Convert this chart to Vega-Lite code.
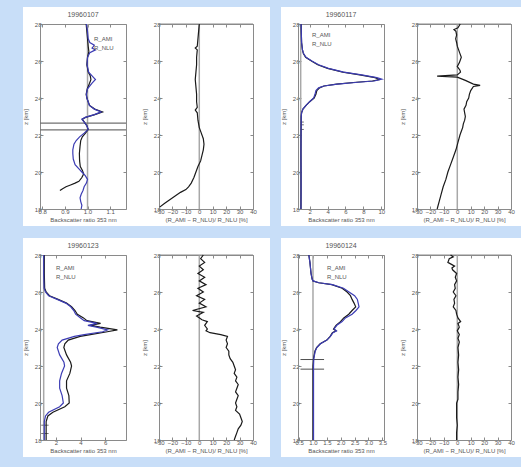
{
"$schema": "https://vega.github.io/schema/vega-lite/v6.json",
"background": "#c8def8",
"padding": {"left": 5, "top": -6, "right": 5, "bottom": 10},
"config": {
 "view": {"stroke": "white", "strokeWidth": 34, "fill": "white"},
 "font": "Liberation Sans",
 "axis": {"grid": false, "domainColor": "#8a8a8a", "domainWidth": 1, "tickColor": "#8a8a8a", "tickSize": -3, "labelFontSize": 6, "labelColor": "#555555", "titleFontSize": 6, "titleFontWeight": "normal", "titleColor": "#555555", "labelPadding": 2, "titlePadding": 2, "labelOverlap": false, "labelFlush": false},
 "axisY": {"titlePadding": 6},
 "title": {"fontSize": 7, "fontWeight": "normal", "color": "#555555", "offset": 3},
 "legend": {"labelFontSize": 6, "labelColor": "#555555", "symbolOpacity": 0, "symbolSize": 0, "labelOffset": 0, "rowPadding": 3, "padding": 0, "offset": 10}
},
"datasets": {
 "tl_r": [
  {"z":28,"s":"R_AMI","v":0.994},{"z":27.6,"s":"R_AMI","v":0.997},{"z":27.2,"s":"R_AMI","v":1.0},{"z":26.8,"s":"R_AMI","v":1.003},{"z":26.5,"s":"R_AMI","v":1.006},{"z":26.2,"s":"R_AMI","v":1.0},{"z":25.8,"s":"R_AMI","v":0.997},{"z":25.4,"s":"R_AMI","v":1.003},{"z":25.2,"s":"R_AMI","v":1.012},{"z":25.0,"s":"R_AMI","v":1.015},{"z":24.8,"s":"R_AMI","v":1.009},{"z":24.5,"s":"R_AMI","v":0.999},{"z":24.2,"s":"R_AMI","v":0.994},{"z":24.0,"s":"R_AMI","v":0.997},{"z":23.8,"s":"R_AMI","v":1.003},{"z":23.6,"s":"R_AMI","v":1.009},{"z":23.4,"s":"R_AMI","v":1.032},{"z":23.25,"s":"R_AMI","v":1.066},{"z":23.1,"s":"R_AMI","v":1.032},{"z":22.95,"s":"R_AMI","v":0.991},{"z":22.85,"s":"R_AMI","v":0.977},{"z":22.7,"s":"R_AMI","v":0.986},{"z":22.5,"s":"R_AMI","v":0.997},{"z":22.3,"s":"R_AMI","v":1.003},{"z":22.1,"s":"R_AMI","v":0.991},{"z":21.9,"s":"R_AMI","v":0.977},{"z":21.7,"s":"R_AMI","v":0.97},{"z":21.4,"s":"R_AMI","v":0.967},{"z":21.0,"s":"R_AMI","v":0.964},{"z":20.6,"s":"R_AMI","v":0.965},{"z":20.3,"s":"R_AMI","v":0.968},{"z":20.1,"s":"R_AMI","v":0.977},{"z":19.9,"s":"R_AMI","v":0.983},{"z":19.7,"s":"R_AMI","v":0.975},{"z":19.5,"s":"R_AMI","v":0.962},{"z":19.4,"s":"R_AMI","v":0.945},{"z":19.3,"s":"R_AMI","v":0.925},{"z":19.2,"s":"R_AMI","v":0.905},{"z":19.1,"s":"R_AMI","v":0.89},{"z":19.0,"s":"R_AMI","v":0.878},
  {"z":28,"s":"R_NLU","v":0.995},{"z":27.6,"s":"R_NLU","v":1.0},{"z":27.2,"s":"R_NLU","v":1.003},{"z":27.0,"s":"R_NLU","v":1.01},{"z":26.85,"s":"R_NLU","v":1.03},{"z":26.7,"s":"R_NLU","v":1.02},{"z":26.6,"s":"R_NLU","v":1.035},{"z":26.45,"s":"R_NLU","v":1.01},{"z":26.2,"s":"R_NLU","v":1.0},{"z":25.8,"s":"R_NLU","v":0.998},{"z":25.4,"s":"R_NLU","v":1.005},{"z":25.2,"s":"R_NLU","v":1.02},{"z":25.0,"s":"R_NLU","v":1.035},{"z":24.8,"s":"R_NLU","v":1.02},{"z":24.5,"s":"R_NLU","v":1.0},{"z":24.2,"s":"R_NLU","v":0.995},{"z":24.0,"s":"R_NLU","v":0.997},{"z":23.8,"s":"R_NLU","v":1.003},{"z":23.6,"s":"R_NLU","v":1.008},{"z":23.4,"s":"R_NLU","v":1.03},{"z":23.25,"s":"R_NLU","v":1.06},{"z":23.1,"s":"R_NLU","v":1.03},{"z":22.95,"s":"R_NLU","v":0.99},{"z":22.85,"s":"R_NLU","v":0.975},{"z":22.7,"s":"R_NLU","v":0.985},{"z":22.5,"s":"R_NLU","v":0.997},{"z":22.3,"s":"R_NLU","v":1.003},{"z":22.1,"s":"R_NLU","v":0.985},{"z":21.9,"s":"R_NLU","v":0.965},{"z":21.7,"s":"R_NLU","v":0.95},{"z":21.5,"s":"R_NLU","v":0.94},{"z":21.2,"s":"R_NLU","v":0.935},{"z":21.0,"s":"R_NLU","v":0.935},{"z":20.7,"s":"R_NLU","v":0.937},{"z":20.4,"s":"R_NLU","v":0.945},{"z":20.2,"s":"R_NLU","v":0.96},{"z":20.0,"s":"R_NLU","v":0.975},{"z":19.8,"s":"R_NLU","v":0.99},{"z":19.6,"s":"R_NLU","v":1.0},{"z":19.4,"s":"R_NLU","v":0.995},{"z":19.2,"s":"R_NLU","v":0.985},{"z":19.0,"s":"R_NLU","v":0.98},{"z":18.8,"s":"R_NLU","v":0.972},{"z":18.6,"s":"R_NLU","v":0.967},{"z":18.4,"s":"R_NLU","v":0.97},{"z":18.2,"s":"R_NLU","v":0.975},{"z":18.0,"s":"R_NLU","v":0.972}
 ],
 "tl_e": [{"z":22.64,"x":0.79,"b":1},{"z":22.64,"x":1.17,"b":1},{"z":22.28,"x":0.79,"b":2},{"z":22.28,"x":1.17,"b":2}],
 "tl_d": [
  {"z":28,"d":0},{"z":27.6,"d":-0.5},{"z":27.2,"d":-1},{"z":26.8,"d":-1.5},{"z":26.7,"d":-3},{"z":26.6,"d":-1.5},{"z":26.2,"d":-2},{"z":25.8,"d":-2},{"z":25.4,"d":-2.5},{"z":25.0,"d":-3},{"z":24.6,"d":-2.5},{"z":24.2,"d":-2},{"z":23.8,"d":-2},{"z":23.5,"d":-1.5},{"z":23.35,"d":-3},{"z":23.2,"d":-1.5},{"z":22.8,"d":-1},{"z":22.4,"d":0},{"z":22.1,"d":1.5},{"z":21.8,"d":3},{"z":21.5,"d":3.5},{"z":21.2,"d":3},{"z":20.9,"d":2},{"z":20.6,"d":1},{"z":20.3,"d":-1},{"z":20.0,"d":-2.5},{"z":19.7,"d":-4},{"z":19.4,"d":-6},{"z":19.2,"d":-8},{"z":19.05,"d":-10},{"z":18.9,"d":-14},{"z":18.7,"d":-18},{"z":18.5,"d":-22},{"z":18.3,"d":-26},{"z":18.1,"d":-29.5}
 ],
 "tr_r": [
  {"z":28,"s":"R_AMI","v":1.05},{"z":27.5,"s":"R_AMI","v":1.07},{"z":27,"s":"R_AMI","v":1.1},{"z":26.6,"s":"R_AMI","v":1.2},{"z":26.4,"s":"R_AMI","v":1.3},{"z":26.2,"s":"R_AMI","v":1.55},{"z":26.0,"s":"R_AMI","v":2.2},{"z":25.8,"s":"R_AMI","v":2.9},{"z":25.6,"s":"R_AMI","v":4.0},{"z":25.4,"s":"R_AMI","v":5.7},{"z":25.25,"s":"R_AMI","v":7.6},{"z":25.1,"s":"R_AMI","v":9.3},{"z":25.0,"s":"R_AMI","v":9.8},{"z":24.92,"s":"R_AMI","v":9.0},{"z":24.85,"s":"R_AMI","v":7.2},{"z":24.75,"s":"R_AMI","v":5.0},{"z":24.65,"s":"R_AMI","v":3.6},{"z":24.55,"s":"R_AMI","v":3.1},{"z":24.4,"s":"R_AMI","v":2.8},{"z":24.2,"s":"R_AMI","v":2.7},{"z":24.0,"s":"R_AMI","v":2.5},{"z":23.8,"s":"R_AMI","v":2.0},{"z":23.6,"s":"R_AMI","v":1.6},{"z":23.4,"s":"R_AMI","v":1.25},{"z":23.2,"s":"R_AMI","v":1.1},{"z":23.0,"s":"R_AMI","v":1.06},{"z":22.0,"s":"R_AMI","v":1.04},{"z":21.0,"s":"R_AMI","v":1.03},{"z":20.0,"s":"R_AMI","v":1.04},{"z":19.0,"s":"R_AMI","v":1.04},{"z":18.0,"s":"R_AMI","v":1.03},
  {"z":28,"s":"R_NLU","v":1.05},{"z":27.5,"s":"R_NLU","v":1.07},{"z":27,"s":"R_NLU","v":1.1},{"z":26.6,"s":"R_NLU","v":1.2},{"z":26.4,"s":"R_NLU","v":1.32},{"z":26.2,"s":"R_NLU","v":1.6},{"z":26.0,"s":"R_NLU","v":2.25},{"z":25.8,"s":"R_NLU","v":3.0},{"z":25.6,"s":"R_NLU","v":4.1},{"z":25.4,"s":"R_NLU","v":5.8},{"z":25.25,"s":"R_NLU","v":7.8},{"z":25.1,"s":"R_NLU","v":9.5},{"z":25.02,"s":"R_NLU","v":10.05},{"z":24.92,"s":"R_NLU","v":9.2},{"z":24.85,"s":"R_NLU","v":7.4},{"z":24.75,"s":"R_NLU","v":5.1},{"z":24.65,"s":"R_NLU","v":3.6},{"z":24.55,"s":"R_NLU","v":3.0},{"z":24.4,"s":"R_NLU","v":2.7},{"z":24.2,"s":"R_NLU","v":2.6},{"z":24.0,"s":"R_NLU","v":2.45},{"z":23.8,"s":"R_NLU","v":2.0},{"z":23.6,"s":"R_NLU","v":1.6},{"z":23.4,"s":"R_NLU","v":1.25},{"z":23.2,"s":"R_NLU","v":1.1},{"z":23.0,"s":"R_NLU","v":1.06},{"z":22.0,"s":"R_NLU","v":1.04},{"z":21.0,"s":"R_NLU","v":1.03},{"z":20.0,"s":"R_NLU","v":1.04},{"z":19.0,"s":"R_NLU","v":1.04},{"z":18.0,"s":"R_NLU","v":1.03}
 ],
 "tr_e": [{"z":22.7,"x":1.0,"b":1},{"z":22.7,"x":1.35,"b":1},{"z":22.55,"x":1.0,"b":2},{"z":22.55,"x":1.35,"b":2},{"z":22.3,"x":1.0,"b":3},{"z":22.3,"x":1.35,"b":3}],
 "tr_d": [
  {"z":28,"d":2.2},{"z":27.8,"d":0.5},{"z":27.7,"d":-2.5},{"z":27.6,"d":-1},{"z":27.4,"d":-0.5},{"z":27.2,"d":-1.2},{"z":27.0,"d":-0.5},{"z":26.8,"d":0},{"z":26.6,"d":1},{"z":26.4,"d":2},{"z":26.2,"d":3},{"z":26.0,"d":2},{"z":25.9,"d":1.5},{"z":25.7,"d":0},{"z":25.6,"d":1},{"z":25.5,"d":2},{"z":25.4,"d":2.4},{"z":25.25,"d":0},{"z":25.18,"d":-15},{"z":25.13,"d":0},{"z":24.95,"d":6},{"z":24.75,"d":12},{"z":24.68,"d":17},{"z":24.62,"d":12},{"z":24.4,"d":10},{"z":24.2,"d":9},{"z":24.0,"d":8.5},{"z":23.8,"d":7},{"z":23.6,"d":6.5},{"z":23.4,"d":5},{"z":23.2,"d":5.5},{"z":23.0,"d":6},{"z":22.8,"d":5.5},{"z":22.6,"d":4.5},{"z":22.4,"d":4},{"z":22.2,"d":3},{"z":22.0,"d":2},{"z":21.6,"d":0.5},{"z":21.2,"d":-1},{"z":20.8,"d":-3},{"z":20.4,"d":-5},{"z":20.0,"d":-7},{"z":19.6,"d":-8.5},{"z":19.2,"d":-10.5},{"z":18.8,"d":-12},{"z":18.4,"d":-13.5},{"z":18.0,"d":-15}
 ],
 "bl_r": [
  {"z":28,"s":"R_AMI","v":1.05},{"z":27,"s":"R_AMI","v":1.05},{"z":26.2,"s":"R_AMI","v":1.08},{"z":26.0,"s":"R_AMI","v":1.2},{"z":25.8,"s":"R_AMI","v":1.47},{"z":25.6,"s":"R_AMI","v":2.17},{"z":25.4,"s":"R_AMI","v":2.86},{"z":25.2,"s":"R_AMI","v":3.27},{"z":25.0,"s":"R_AMI","v":3.55},{"z":24.8,"s":"R_AMI","v":3.74},{"z":24.6,"s":"R_AMI","v":4.24},{"z":24.45,"s":"R_AMI","v":4.52},{"z":24.3,"s":"R_AMI","v":5.63},{"z":24.2,"s":"R_AMI","v":4.8},{"z":24.1,"s":"R_AMI","v":5.6},{"z":23.95,"s":"R_AMI","v":7.0},{"z":23.85,"s":"R_AMI","v":6.18},{"z":23.7,"s":"R_AMI","v":4.8},{"z":23.6,"s":"R_AMI","v":3.97},{"z":23.4,"s":"R_AMI","v":3.0},{"z":23.2,"s":"R_AMI","v":2.72},{"z":23.0,"s":"R_AMI","v":2.64},{"z":22.6,"s":"R_AMI","v":2.86},{"z":22.2,"s":"R_AMI","v":3.19},{"z":22.0,"s":"R_AMI","v":3.27},{"z":21.6,"s":"R_AMI","v":3.13},{"z":21.2,"s":"R_AMI","v":2.86},{"z":20.8,"s":"R_AMI","v":2.86},{"z":20.4,"s":"R_AMI","v":3.05},{"z":20.0,"s":"R_AMI","v":3.08},{"z":19.8,"s":"R_AMI","v":2.72},{"z":19.5,"s":"R_AMI","v":1.75},{"z":19.3,"s":"R_AMI","v":1.34},{"z":19.0,"s":"R_AMI","v":1.2},{"z":18.5,"s":"R_AMI","v":1.2},{"z":18.0,"s":"R_AMI","v":1.2},
  {"z":28,"s":"R_NLU","v":1.0},{"z":27,"s":"R_NLU","v":1.0},{"z":26.2,"s":"R_NLU","v":1.03},{"z":26.0,"s":"R_NLU","v":1.15},{"z":25.8,"s":"R_NLU","v":1.4},{"z":25.6,"s":"R_NLU","v":2.1},{"z":25.4,"s":"R_NLU","v":2.8},{"z":25.2,"s":"R_NLU","v":3.2},{"z":25.0,"s":"R_NLU","v":3.45},{"z":24.8,"s":"R_NLU","v":3.6},{"z":24.6,"s":"R_NLU","v":4.0},{"z":24.45,"s":"R_NLU","v":4.3},{"z":24.3,"s":"R_NLU","v":5.35},{"z":24.2,"s":"R_NLU","v":4.6},{"z":24.1,"s":"R_NLU","v":5.3},{"z":23.95,"s":"R_NLU","v":6.2},{"z":23.85,"s":"R_NLU","v":5.8},{"z":23.7,"s":"R_NLU","v":4.3},{"z":23.6,"s":"R_NLU","v":3.5},{"z":23.4,"s":"R_NLU","v":2.5},{"z":23.2,"s":"R_NLU","v":2.2},{"z":23.0,"s":"R_NLU","v":2.1},{"z":22.6,"s":"R_NLU","v":2.3},{"z":22.2,"s":"R_NLU","v":2.65},{"z":22.0,"s":"R_NLU","v":2.7},{"z":21.6,"s":"R_NLU","v":2.45},{"z":21.2,"s":"R_NLU","v":2.3},{"z":20.8,"s":"R_NLU","v":2.3},{"z":20.4,"s":"R_NLU","v":2.5},{"z":20.0,"s":"R_NLU","v":2.6},{"z":19.8,"s":"R_NLU","v":2.3},{"z":19.5,"s":"R_NLU","v":1.4},{"z":19.3,"s":"R_NLU","v":1.15},{"z":19.0,"s":"R_NLU","v":1.05},{"z":18.0,"s":"R_NLU","v":1.05}
 ],
 "bl_e": [{"z":18.8,"x":0.8,"b":1},{"z":18.8,"x":1.4,"b":1},{"z":18.35,"x":0.8,"b":2},{"z":18.35,"x":1.4,"b":2}],
 "bl_d": [
  {"z":28,"d":3},{"z":27.8,"d":1},{"z":27.6,"d":4},{"z":27.4,"d":0},{"z":27.2,"d":3},{"z":27.0,"d":-1},{"z":26.8,"d":4},{"z":26.6,"d":0},{"z":26.4,"d":5},{"z":26.2,"d":-1},{"z":26.0,"d":3},{"z":25.8,"d":-2},{"z":25.6,"d":4},{"z":25.4,"d":0},{"z":25.2,"d":5},{"z":25.0,"d":-5},{"z":24.9,"d":3},{"z":24.7,"d":-2},{"z":24.5,"d":2},{"z":24.4,"d":6},{"z":24.2,"d":4},{"z":24.0,"d":6},{"z":23.9,"d":5},{"z":23.8,"d":8},{"z":23.7,"d":16},{"z":23.6,"d":21},{"z":23.4,"d":20},{"z":23.2,"d":21},{"z":23.0,"d":20},{"z":22.8,"d":22},{"z":22.6,"d":22},{"z":22.4,"d":23},{"z":22.2,"d":25},{"z":22.0,"d":26},{"z":21.8,"d":27},{"z":21.6,"d":26},{"z":21.4,"d":28},{"z":21.2,"d":27},{"z":21.0,"d":29},{"z":20.8,"d":28},{"z":20.6,"d":27},{"z":20.4,"d":29},{"z":20.2,"d":28},{"z":20.0,"d":27},{"z":19.8,"d":28},{"z":19.6,"d":27},{"z":19.4,"d":30},{"z":19.2,"d":31},{"z":19.0,"d":32},{"z":18.8,"d":31},{"z":18.6,"d":29},{"z":18.4,"d":28},{"z":18.2,"d":27},{"z":18.0,"d":26}
 ],
 "br_r": [
  {"z":28,"s":"R_AMI","v":0.85},{"z":27.6,"s":"R_AMI","v":0.89},{"z":27.0,"s":"R_AMI","v":0.93},{"z":26.7,"s":"R_AMI","v":0.97},{"z":26.6,"s":"R_AMI","v":1.0},{"z":26.5,"s":"R_AMI","v":1.2},{"z":26.4,"s":"R_AMI","v":1.68},{"z":26.2,"s":"R_AMI","v":2.05},{"z":26.0,"s":"R_AMI","v":2.23},{"z":25.8,"s":"R_AMI","v":2.35},{"z":25.6,"s":"R_AMI","v":2.41},{"z":25.4,"s":"R_AMI","v":2.48},{"z":25.2,"s":"R_AMI","v":2.54},{"z":25.0,"s":"R_AMI","v":2.41},{"z":24.8,"s":"R_AMI","v":2.29},{"z":24.6,"s":"R_AMI","v":2.11},{"z":24.4,"s":"R_AMI","v":1.99},{"z":24.2,"s":"R_AMI","v":1.83},{"z":24.0,"s":"R_AMI","v":1.74},{"z":23.9,"s":"R_AMI","v":1.83},{"z":23.8,"s":"R_AMI","v":1.7},{"z":23.6,"s":"R_AMI","v":1.62},{"z":23.4,"s":"R_AMI","v":1.5},{"z":23.2,"s":"R_AMI","v":1.26},{"z":23.0,"s":"R_AMI","v":1.13},{"z":22.8,"s":"R_AMI","v":1.07},{"z":22.4,"s":"R_AMI","v":1.02},{"z":22.0,"s":"R_AMI","v":1.0},{"z":21.0,"s":"R_AMI","v":1.0},{"z":20.0,"s":"R_AMI","v":1.0},{"z":19.0,"s":"R_AMI","v":1.0},{"z":18.0,"s":"R_AMI","v":1.0},
  {"z":28,"s":"R_NLU","v":0.85},{"z":27.6,"s":"R_NLU","v":0.89},{"z":27.0,"s":"R_NLU","v":0.93},{"z":26.7,"s":"R_NLU","v":0.97},{"z":26.6,"s":"R_NLU","v":1.0},{"z":26.5,"s":"R_NLU","v":1.22},{"z":26.4,"s":"R_NLU","v":1.7},{"z":26.2,"s":"R_NLU","v":2.1},{"z":26.0,"s":"R_NLU","v":2.3},{"z":25.8,"s":"R_NLU","v":2.5},{"z":25.6,"s":"R_NLU","v":2.6},{"z":25.4,"s":"R_NLU","v":2.63},{"z":25.2,"s":"R_NLU","v":2.66},{"z":25.0,"s":"R_NLU","v":2.55},{"z":24.8,"s":"R_NLU","v":2.41},{"z":24.6,"s":"R_NLU","v":2.17},{"z":24.4,"s":"R_NLU","v":2.05},{"z":24.2,"s":"R_NLU","v":1.86},{"z":24.0,"s":"R_NLU","v":1.76},{"z":23.9,"s":"R_NLU","v":1.85},{"z":23.8,"s":"R_NLU","v":1.72},{"z":23.6,"s":"R_NLU","v":1.63},{"z":23.4,"s":"R_NLU","v":1.5},{"z":23.2,"s":"R_NLU","v":1.27},{"z":23.0,"s":"R_NLU","v":1.14},{"z":22.8,"s":"R_NLU","v":1.08},{"z":22.4,"s":"R_NLU","v":1.03},{"z":22.0,"s":"R_NLU","v":1.02},{"z":21.0,"s":"R_NLU","v":1.02},{"z":20.0,"s":"R_NLU","v":1.02},{"z":19.0,"s":"R_NLU","v":1.02},{"z":18.0,"s":"R_NLU","v":1.02}
 ],
 "br_e": [{"z":22.35,"x":0.55,"b":1},{"z":22.35,"x":1.4,"b":1},{"z":21.83,"x":0.55,"b":2},{"z":21.83,"x":1.4,"b":2}],
 "br_d": [
  {"z":28,"d":-5},{"z":27.9,"d":-3},{"z":27.8,"d":-6},{"z":27.6,"d":-7},{"z":27.4,"d":-2},{"z":27.3,"d":-4},{"z":27.2,"d":-3.5},{"z":27.0,"d":-0.5},{"z":26.8,"d":-1.5},{"z":26.6,"d":-0.5},{"z":26.4,"d":-2},{"z":26.2,"d":-1.5},{"z":26.0,"d":-3},{"z":25.8,"d":-1},{"z":25.6,"d":-2.5},{"z":25.4,"d":-2},{"z":25.2,"d":-3},{"z":25.0,"d":-1},{"z":24.8,"d":-0.5},{"z":24.6,"d":0.5},{"z":24.4,"d":2.5},{"z":24.3,"d":0.5},{"z":24.1,"d":1.5},{"z":23.9,"d":0},{"z":23.7,"d":1.5},{"z":23.5,"d":0.5},{"z":23.3,"d":1.5},{"z":23.0,"d":0.5},{"z":22.6,"d":1},{"z":22.2,"d":0.5},{"z":21.8,"d":1},{"z":21.4,"d":0.5},{"z":21.0,"d":1},{"z":20.6,"d":0.5},{"z":20.2,"d":0.5},{"z":20.0,"d":-0.5},{"z":19.6,"d":-0.5},{"z":19.2,"d":-0.5},{"z":18.8,"d":0},{"z":18.4,"d":-0.5},{"z":18.0,"d":-0.5}
 ]
},
"spacing": -14,
"resolve": {"legend": {"color": "independent"}},
"vconcat": [
 {"spacing": -11, "resolve": {"legend": {"color": "independent"}},
  "hconcat": [
   {"spacing": 33, "bounds": "flush", "resolve": {"legend": {"color": "independent"}},
    "hconcat": [
     {"width": 86, "height": 185, "title": "19960107",
      "layer": [
       {"data": {"values": [{}]}, "mark": {"type": "rule", "color": "#a8a8a8", "strokeWidth": 1.5},
        "encoding": {"x": {"datum": 1, "type": "quantitative", "axis": {"orient": "top", "labels": false, "title": null, "values": [0.8,0.9,1.0,1.1]}}}},
       {"data": {"name": "tl_e"}, "mark": {"type": "line", "color": "#707070", "strokeWidth": 1.3, "clip": true},
        "encoding": {"y": {"field": "z", "type": "quantitative", "axis": {"orient": "right", "labels": false, "title": null, "values": [18,20,22,24,26,28]}}, "x": {"field": "x", "type": "quantitative", "axis": null}, "detail": {"field": "b"}}},
       {"data": {"name": "tl_r"}, "mark": {"type": "line", "strokeWidth": 1.2},
        "encoding": {
         "x": {"field": "v", "type": "quantitative", "scale": {"domain": [0.79, 1.17], "nice": false, "zero": false}, "axis": {"orient": "bottom", "title": "Backscatter ratio 353 nm", "values": [0.8,0.9,1.0,1.1], "format": ".1f"}},
         "y": {"field": "z", "type": "quantitative", "scale": {"domain": [18, 28], "nice": false, "zero": false}, "axis": {"orient": "left", "title": "z [km]", "values": [18,20,22,24,26,28]}},
         "color": {"field": "s", "type": "nominal", "scale": {"domain": ["R_AMI","R_NLU"], "range": ["#1a1a1a","#3c3cb4"]}, "legend": {"title": null, "orient": "top-right", "offset": 12}},
         "order": {"field": "z", "type": "quantitative"}}}
      ],
      "resolve": {"axis": {"x": "independent", "y": "independent"}}},
     {"width": 94, "height": 185,
      "layer": [
       {"data": {"values": [{}]}, "mark": {"type": "rule", "color": "#a8a8a8", "strokeWidth": 1.5},
        "encoding": {"x": {"datum": 0, "type": "quantitative", "axis": {"orient": "top", "labels": false, "title": null, "values": [-30,-20,-10,0,10,20,30,40]}}}},
       {"data": {"values": [{}]}, "mark": {"type": "rule", "color": "#8a8a8a", "strokeWidth": 1},
        "encoding": {"y": {"datum": 28, "type": "quantitative", "axis": {"orient": "right", "labels": false, "title": null, "values": [18,20,22,24,26,28]}}}},
       {"data": {"name": "tl_d"}, "mark": {"type": "line", "strokeWidth": 1.2, "color": "#1a1a1a"},
        "encoding": {
         "x": {"field": "d", "type": "quantitative", "scale": {"domain": [-30, 40], "nice": false, "zero": false}, "axis": {"orient": "bottom", "title": "(R_AMI − R_NLU)/ R_NLU [%]", "values": [-30,-20,-10,0,10,20,30,40]}},
         "y": {"field": "z", "type": "quantitative", "scale": {"domain": [18, 28], "nice": false, "zero": false}, "axis": {"orient": "left", "title": "z [km]", "values": [18,20,22,24,26,28]}},
         "order": {"field": "z", "type": "quantitative"}}}
      ],
      "resolve": {"axis": {"x": "independent", "y": "independent"}}}
    ]},
   {"spacing": 33, "bounds": "flush", "resolve": {"legend": {"color": "independent"}},
    "hconcat": [
     {"width": 86, "height": 185, "title": "19960117",
      "layer": [
       {"data": {"values": [{}]}, "mark": {"type": "rule", "color": "#a8a8a8", "strokeWidth": 1.5},
        "encoding": {"x": {"datum": 1, "type": "quantitative", "axis": {"orient": "top", "labels": false, "title": null, "values": [2,4,6,8,10]}}}},
       {"data": {"name": "tr_e"}, "mark": {"type": "line", "color": "#707070", "strokeWidth": 1, "clip": true},
        "encoding": {"y": {"field": "z", "type": "quantitative", "axis": {"orient": "right", "labels": false, "title": null, "values": [18,20,22,24,26,28]}}, "x": {"field": "x", "type": "quantitative", "axis": null}, "detail": {"field": "b"}}},
       {"data": {"name": "tr_r"}, "mark": {"type": "line", "strokeWidth": 1.2},
        "encoding": {
         "x": {"field": "v", "type": "quantitative", "scale": {"domain": [0.7, 10.3], "nice": false, "zero": false}, "axis": {"orient": "bottom", "title": "Backscatter ratio 353 nm", "values": [2,4,6,8,10]}},
         "y": {"field": "z", "type": "quantitative", "scale": {"domain": [18, 28], "nice": false, "zero": false}, "axis": {"orient": "left", "title": "z [km]", "values": [18,20,22,24,26,28]}},
         "color": {"field": "s", "type": "nominal", "scale": {"domain": ["R_AMI","R_NLU"], "range": ["#1a1a1a","#3c3cb4"]}, "legend": {"title": null, "orient": "top-left", "offset": 8}},
         "order": {"field": "z", "type": "quantitative"}}}
      ],
      "resolve": {"axis": {"x": "independent", "y": "independent"}}},
     {"width": 94, "height": 185,
      "layer": [
       {"data": {"values": [{}]}, "mark": {"type": "rule", "color": "#a8a8a8", "strokeWidth": 1.5},
        "encoding": {"x": {"datum": 0, "type": "quantitative", "axis": {"orient": "top", "labels": false, "title": null, "values": [-30,-20,-10,0,10,20,30,40]}}}},
       {"data": {"values": [{}]}, "mark": {"type": "rule", "color": "#8a8a8a", "strokeWidth": 1},
        "encoding": {"y": {"datum": 28, "type": "quantitative", "axis": {"orient": "right", "labels": false, "title": null, "values": [18,20,22,24,26,28]}}}},
       {"data": {"name": "tr_d"}, "mark": {"type": "line", "strokeWidth": 1.2, "color": "#1a1a1a"},
        "encoding": {
         "x": {"field": "d", "type": "quantitative", "scale": {"domain": [-30, 40], "nice": false, "zero": false}, "axis": {"orient": "bottom", "title": "(R_AMI − R_NLU)/ R_NLU [%]", "values": [-30,-20,-10,0,10,20,30,40]}},
         "y": {"field": "z", "type": "quantitative", "scale": {"domain": [18, 28], "nice": false, "zero": false}, "axis": {"orient": "left", "title": "z [km]", "values": [18,20,22,24,26,28]}},
         "order": {"field": "z", "type": "quantitative"}}}
      ],
      "resolve": {"axis": {"x": "independent", "y": "independent"}}}
    ]}
  ]},
 {"spacing": -11, "resolve": {"legend": {"color": "independent"}},
  "hconcat": [
   {"spacing": 33, "bounds": "flush", "resolve": {"legend": {"color": "independent"}},
    "hconcat": [
     {"width": 86, "height": 185, "title": "19960123",
      "layer": [
       {"data": {"values": [{}]}, "mark": {"type": "rule", "color": "#a8a8a8", "strokeWidth": 1.5},
        "encoding": {"x": {"datum": 1, "type": "quantitative", "axis": {"orient": "top", "labels": false, "title": null, "values": [2,4,6]}}}},
       {"data": {"name": "bl_e"}, "mark": {"type": "line", "color": "#707070", "strokeWidth": 1, "clip": true},
        "encoding": {"y": {"field": "z", "type": "quantitative", "axis": {"orient": "right", "labels": false, "title": null, "values": [18,20,22,24,26,28]}}, "x": {"field": "x", "type": "quantitative", "axis": null}, "detail": {"field": "b"}}},
       {"data": {"name": "bl_r"}, "mark": {"type": "line", "strokeWidth": 1.2},
        "encoding": {
         "x": {"field": "v", "type": "quantitative", "scale": {"domain": [0.7, 7.7], "nice": false, "zero": false}, "axis": {"orient": "bottom", "title": "Backscatter ratio 353 nm", "values": [2,4,6]}},
         "y": {"field": "z", "type": "quantitative", "scale": {"domain": [18, 28], "nice": false, "zero": false}, "axis": {"orient": "left", "title": "z [km]", "values": [18,20,22,24,26,28]}},
         "color": {"field": "s", "type": "nominal", "scale": {"domain": ["R_AMI","R_NLU"], "range": ["#1a1a1a","#3c3cb4"]}, "legend": {"title": null, "orient": "top-left", "offset": 10}},
         "order": {"field": "z", "type": "quantitative"}}}
      ],
      "resolve": {"axis": {"x": "independent", "y": "independent"}}},
     {"width": 94, "height": 185,
      "layer": [
       {"data": {"values": [{}]}, "mark": {"type": "rule", "color": "#a8a8a8", "strokeWidth": 1.5},
        "encoding": {"x": {"datum": 0, "type": "quantitative", "axis": {"orient": "top", "labels": false, "title": null, "values": [-30,-20,-10,0,10,20,30,40]}}}},
       {"data": {"values": [{}]}, "mark": {"type": "rule", "color": "#8a8a8a", "strokeWidth": 1},
        "encoding": {"y": {"datum": 28, "type": "quantitative", "axis": {"orient": "right", "labels": false, "title": null, "values": [18,20,22,24,26,28]}}}},
       {"data": {"name": "bl_d"}, "mark": {"type": "line", "strokeWidth": 1.2, "color": "#1a1a1a"},
        "encoding": {
         "x": {"field": "d", "type": "quantitative", "scale": {"domain": [-30, 40], "nice": false, "zero": false}, "axis": {"orient": "bottom", "title": "(R_AMI − R_NLU)/ R_NLU [%]", "values": [-30,-20,-10,0,10,20,30,40]}},
         "y": {"field": "z", "type": "quantitative", "scale": {"domain": [18, 28], "nice": false, "zero": false}, "axis": {"orient": "left", "title": "z [km]", "values": [18,20,22,24,26,28]}},
         "order": {"field": "z", "type": "quantitative"}}}
      ],
      "resolve": {"axis": {"x": "independent", "y": "independent"}}}
    ]},
   {"spacing": 33, "bounds": "flush", "resolve": {"legend": {"color": "independent"}},
    "hconcat": [
     {"width": 86, "height": 185, "title": "19960124",
      "layer": [
       {"data": {"values": [{}]}, "mark": {"type": "rule", "color": "#a8a8a8", "strokeWidth": 1.5},
        "encoding": {"x": {"datum": 1, "type": "quantitative", "axis": {"orient": "top", "labels": false, "title": null, "values": [0.5,1,1.5,2,2.5,3,3.5]}}}},
       {"data": {"name": "br_e"}, "mark": {"type": "line", "color": "#505050", "strokeWidth": 1, "clip": true},
        "encoding": {"y": {"field": "z", "type": "quantitative", "axis": {"orient": "right", "labels": false, "title": null, "values": [18,20,22,24,26,28]}}, "x": {"field": "x", "type": "quantitative", "axis": null}, "detail": {"field": "b"}}},
       {"data": {"name": "br_r"}, "mark": {"type": "line", "strokeWidth": 1.2},
        "encoding": {
         "x": {"field": "v", "type": "quantitative", "scale": {"domain": [0.46, 3.56], "nice": false, "zero": false}, "axis": {"orient": "bottom", "title": "Backscatter ratio 353 nm", "values": [0.5,1,1.5,2,2.5,3,3.5], "format": ".1f"}},
         "y": {"field": "z", "type": "quantitative", "scale": {"domain": [18, 28], "nice": false, "zero": false}, "axis": {"orient": "left", "title": "z [km]", "values": [18,20,22,24,26,28]}},
         "color": {"field": "s", "type": "nominal", "scale": {"domain": ["R_AMI","R_NLU"], "range": ["#1a1a1a","#3c3cb4"]}, "legend": {"title": " ", "titleOrient": "left", "titlePadding": 13, "orient": "top-left", "offset": 10}},
         "order": {"field": "z", "type": "quantitative"}}}
      ],
      "resolve": {"axis": {"x": "independent", "y": "independent"}}},
     {"width": 94, "height": 185,
      "layer": [
       {"data": {"values": [{}]}, "mark": {"type": "rule", "color": "#a8a8a8", "strokeWidth": 1.5},
        "encoding": {"x": {"datum": 0, "type": "quantitative", "axis": {"orient": "top", "labels": false, "title": null, "values": [-30,-20,-10,0,10,20,30,40]}}}},
       {"data": {"values": [{}]}, "mark": {"type": "rule", "color": "#8a8a8a", "strokeWidth": 1},
        "encoding": {"y": {"datum": 28, "type": "quantitative", "axis": {"orient": "right", "labels": false, "title": null, "values": [18,20,22,24,26,28]}}}},
       {"data": {"name": "br_d"}, "mark": {"type": "line", "strokeWidth": 1.2, "color": "#1a1a1a"},
        "encoding": {
         "x": {"field": "d", "type": "quantitative", "scale": {"domain": [-30, 40], "nice": false, "zero": false}, "axis": {"orient": "bottom", "title": "(R_AMI − R_NLU)/ R_NLU [%]", "values": [-30,-20,-10,0,10,20,30,40]}},
         "y": {"field": "z", "type": "quantitative", "scale": {"domain": [18, 28], "nice": false, "zero": false}, "axis": {"orient": "left", "title": "z [km]", "values": [18,20,22,24,26,28]}},
         "order": {"field": "z", "type": "quantitative"}}}
      ],
      "resolve": {"axis": {"x": "independent", "y": "independent"}}}
    ]}
  ]}
]
}
